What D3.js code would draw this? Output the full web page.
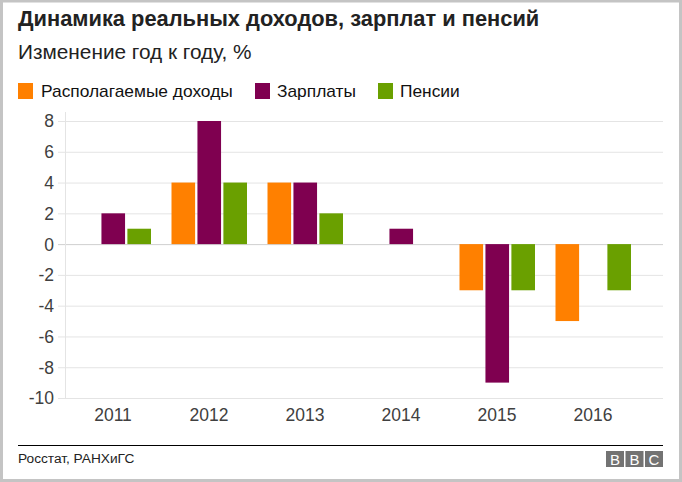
<!DOCTYPE html>
<html><head><meta charset="utf-8">
<script src="https://cdn.jsdelivr.net/npm/d3@7"></script>
<style>html,body{margin:0;padding:0;background:#fff}svg{display:block}text{font-family:"Liberation Sans",Arial,sans-serif}</style>
</head><body><svg id="c" width="682" height="482"></svg>
<script>
const years=["2011","2012","2013","2014","2015","2016"];
const seriesNames=["Располагаемые доходы","Зарплаты","Пенсии"];
const colors=["#ff8000","#7f0050","#6aa000"];
const income=[null,4,4,null,-3,-5];
const wages=[2,8,4,1,-9,null];
const pensions=[1,4,2,null,-3,-3];
const yTicks=[8,6,4,2,0,-2,-4,-6,-8,-10];
const series=[income,wages,pensions];

const svg=d3.select("#c");
svg.append("rect").attr("x",1.5).attr("y",1).attr("width",679).attr("height",479.5).attr("fill","#fff").attr("stroke","#c4c4c4").attr("stroke-width",3);

svg.append("text").attr("x",18).attr("y",26).attr("font-size",21.85).attr("font-weight","700").attr("fill","#222").text("Динамика реальных доходов, зарплат и пенсий");
svg.append("text").attr("x",18).attr("y",59).attr("font-size",20.8).attr("fill","#222").text("Изменение год к году, %");

const legendX=[18,255,378];
const legendTextX=[41,277,400];
seriesNames.forEach((n,i)=>{
  svg.append("rect").attr("x",legendX[i]).attr("y",83).attr("width",15).attr("height",16).attr("fill",colors[i]);
  svg.append("text").attr("x",legendTextX[i]).attr("y",97).attr("font-size",17.35).attr("fill","#111").text(n);
});

const y=d3.scaleLinear().domain([-10,8]).range([398,121]);
const x=d3.scaleBand().domain(years).range([65,641]);
const x1=d3.scaleBand().domain([0,1,2]).range([x.bandwidth()/2-37.5,x.bandwidth()/2+38]).paddingInner(0.09);

const gy=svg.append("g").attr("transform","translate(65,0)").call(d3.axisLeft(y).tickValues(yTicks).tickSize(7).tickPadding(3).tickFormat(d=>d));
gy.select(".domain").remove();
gy.selectAll("line").attr("stroke","#e4e4e4").attr("x2",598).attr("x1",-7);
gy.selectAll("text").attr("font-size",17.5).attr("fill","#404040").attr("dy","0.34em").attr("x",-11);
svg.append("line").attr("x1",65.5).attr("x2",65.5).attr("y1",112).attr("y2",398).attr("stroke","#e4e4e4");
gy.selectAll(".tick").filter(d=>d===0).select("line").attr("stroke","#cfcfcf");

series.forEach((vals,i)=>{
  svg.append("g").selectAll("rect").data(years.map((yr,j)=>({yr,v:vals[j]})).filter(d=>d.v!==null)).join("rect")
    .attr("x",d=>x(d.yr)+x1(i)).attr("width",x1.bandwidth())
    .attr("y",d=>y(Math.max(0,d.v))).attr("height",d=>Math.abs(y(d.v)-y(0)))
    .attr("fill",colors[i]);
});

const gx=svg.append("g").attr("transform","translate(0,398)").call(d3.axisBottom(x).tickSize(0).tickPadding(11));
gx.select(".domain").remove();
gx.selectAll("text").attr("font-size",17.5).attr("fill","#404040").attr("dy","0.71em");

svg.append("line").attr("x1",18).attr("x2",663).attr("y1",445.5).attr("y2",445.5).attr("stroke","#000");
svg.append("text").attr("x",18).attr("y",463).attr("font-size",13.7).attr("fill","#222").text("Росстат, РАНХиГС");

["B","B","C"].forEach((c,i)=>{
  const bx=606+i*19.5;
  svg.append("rect").attr("x",bx).attr("y",451).attr("width",18).attr("height",16).attr("fill","#737373");
  svg.append("text").attr("x",bx+9).attr("y",465).attr("text-anchor","middle").attr("font-size",15).attr("fill","#fff").text(c);
});
</script></body></html>
